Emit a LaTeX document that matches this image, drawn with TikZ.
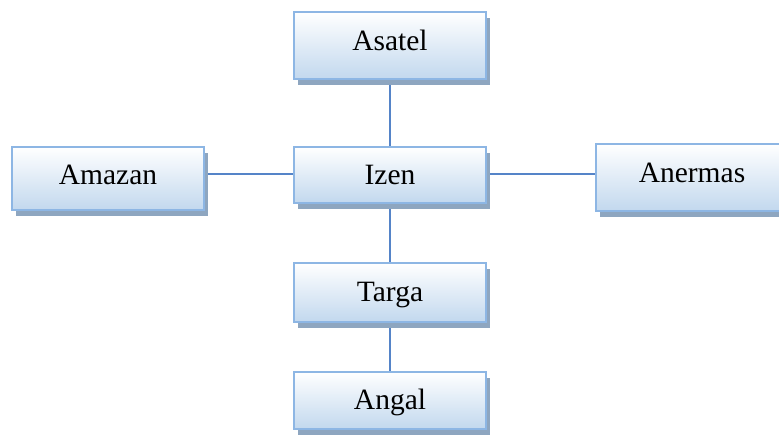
\documentclass[tikz,border=0pt]{standalone}
\usepackage{fontspec}
\setmainfont{Liberation Serif}
\usetikzlibrary{shadows,backgrounds}
\definecolor{bordc}{HTML}{8DB6E4}
\definecolor{botc}{HTML}{C2D8EE}
\definecolor{shadc}{HTML}{8EA6C0}
\definecolor{linec}{HTML}{5584C8}
\begin{document}
\begin{tikzpicture}[x=1pt,y=-1pt,
  box/.style={draw=bordc,line width=2pt,top color=white,bottom color=botc,
    drop shadow={shadow xshift=4pt,shadow yshift=-6pt,fill=shadc,opacity=1},
    minimum width=192pt,inner sep=0pt,font=\fontsize{29.5}{35}\selectfont,text height=19.5pt},
  conn/.style={draw=linec,line width=1.2pt}]
\useasboundingbox (0,0) rectangle (779,434);
\clip (0,0) rectangle (779,434);
\node[box,minimum height=67pt,text depth=9pt] (asatel) at (390,45.5) {Asatel};
\node[box,minimum height=56pt,text depth=0pt] (izen) at (390,175) {Izen};
\node[box,minimum height=63pt,text depth=7pt] (amazan) at (108,178.5) {Amazan};
\node[box,minimum height=67pt,text depth=9pt] (anermas) at (692,177.5) {Anermas};
\node[box,minimum height=59pt,text depth=2pt] (targa) at (390,292.5) {Targa};
\node[box,minimum height=57pt,text depth=2pt] (angal) at (390,400.5) {Angal};
\begin{pgfonlayer}{background}
\draw[conn] (asatel) -- (izen);
\draw[conn] (izen) -- (targa);
\draw[conn] (targa) -- (angal);
\draw[conn] ([yshift=1pt]izen.west) -- ([yshift=1pt]izen.west -| amazan.east);
\draw[conn] ([yshift=1pt]izen.east) -- ([yshift=1pt]izen.east -| anermas.west);
\end{pgfonlayer}
\end{tikzpicture}
\end{document}
